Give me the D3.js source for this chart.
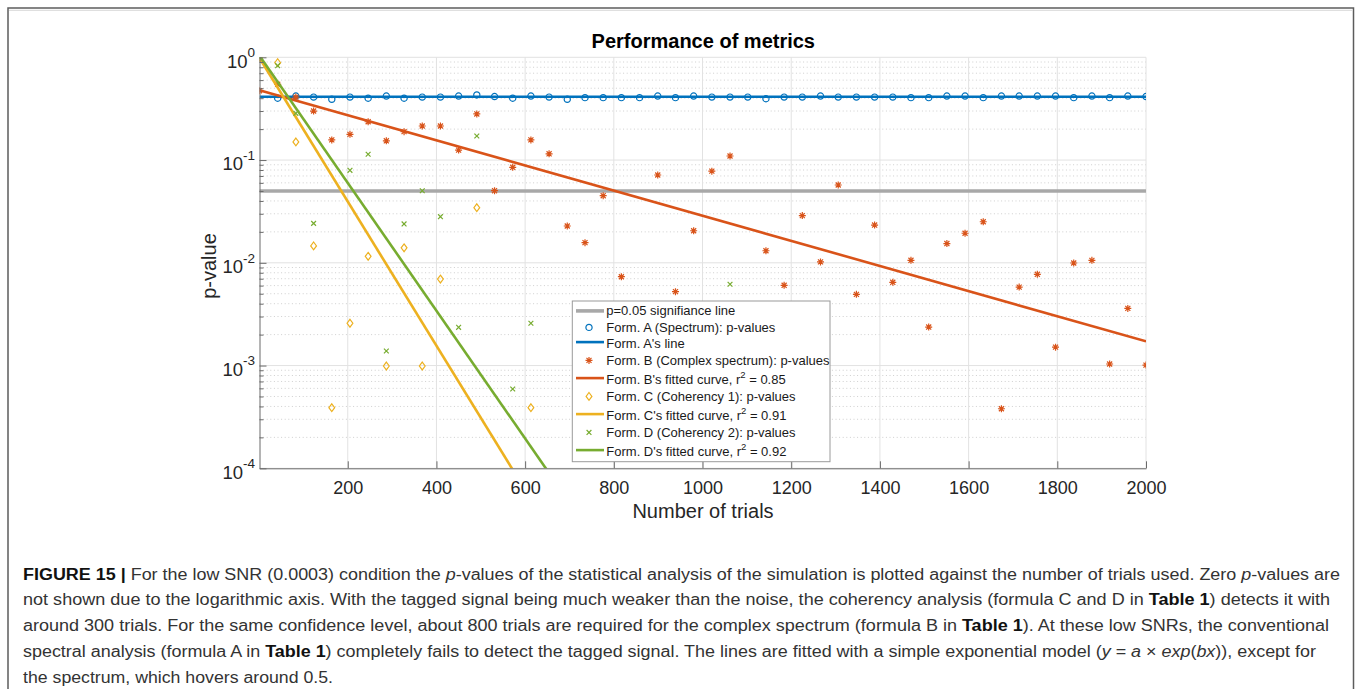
<!DOCTYPE html>
<html>
<head>
<meta charset="utf-8">
<script src="https://cdn.jsdelivr.net/npm/d3@7"></script>
<style>
  body { margin: 0; background: #fff; }
  svg { display: block; }
  text { font-family: "Liberation Sans", Arial, Helvetica, sans-serif; }
</style>
</head>
<body>
<svg id="chart" width="1358" height="689"></svg>
<script>
// ---- data -------------------------------------------------------------
const trials = [1, 42, 83, 123, 164, 205, 246, 287, 327, 368,
  409, 450, 491, 531, 572, 613, 654, 695, 735, 776,
  817, 858, 899, 939, 980, 1021, 1062, 1102, 1143, 1184,
  1225, 1266, 1306, 1347, 1388, 1429, 1470, 1510, 1551, 1592,
  1633, 1674, 1714, 1755, 1796, 1837, 1878, 1918, 1959, 2000];

// Form. A (Spectrum)
const pSpectrum = [null, 0.40, 0.42, 0.41, 0.39, 0.41, 0.40, 0.42, 0.40, 0.41,
  0.41, 0.42, 0.43, 0.415, 0.40, 0.42, 0.41, 0.39, 0.405, 0.405,
  0.405, 0.405, 0.42, 0.405, 0.42, 0.41, 0.41, 0.41, 0.395, 0.41,
  0.41, 0.42, 0.41, 0.41, 0.41, 0.41, 0.405, 0.405, 0.42, 0.42,
  0.405, 0.42, 0.42, 0.42, 0.42, 0.405, 0.42, 0.405, 0.42, 0.415];
const spectrumLevel = 0.413;

// Form. B (Complex spectrum)
const pComplex = [0.473, 0.546, 0.41, 0.300, 0.157, 0.178, 0.236, 0.154, 0.189, 0.2145,
  0.2145, 0.125, 0.281, 0.0503, 0.085, 0.157, 0.115, 0.0228, 0.0157, 0.045,
  0.00732, null, 0.0715, 0.00524, 0.0205, 0.078, 0.1095, null, 0.0131, 0.00604,
  0.0288, 0.0102, 0.0572, 0.00493, 0.0233, 0.00646, 0.01058, 0.00237, 0.0154, 0.0194,
  0.0251, 0.00038, 0.0058, 0.00773, 0.00151, 0.00996, 0.01057, 0.001035, 0.0036, 0.00101];

// Form. C (Coherency 1)
const pCoh1 = [1.0, 0.887, 0.150, 0.0146, 0.000389, 0.00258, 0.01156, 0.00099, 0.014, 0.00099,
  0.00695, null, 0.0344, null, null, 0.000389, null, null, null, null,
  null, null, null, null, null, null, null, null, null, null,
  null, null, null, null, null, null, null, null, null, null,
  null, null, null, null, null, null, null, null, null, null];

// Form. D (Coherency 2)
const pCoh2 = [1.0, 0.829, 0.285, 0.0242, null, 0.0794, 0.1138, 0.001386, 0.0239, 0.0503,
  0.0281, 0.002356, 0.1714, null, 0.000591, 0.00258, null, null, null, null,
  null, null, null, null, null, null, 0.00618, null, null, null,
  null, null, null, null, null, null, null, null, null, null,
  null, null, null, null, null, null, null, null, null, null];

const significance = 0.05;

// exponential fits y = a * exp(b * x)
const fitComplex = { a: 0.48, b: -0.002816 };
const fitCoh1 = { a: 1.0, b: -0.01616 };
const fitCoh2 = { a: 1.05, b: -0.01432 };

const xTicks = [200, 400, 600, 800, 1000, 1200, 1400, 1600, 1800, 2000];
const yTicks = [1, 0.1, 0.01, 0.001, 0.0001];
const yTickExponents = ["0", "-1", "-2", "-3", "-4"];

const legendLabels = [
  "p=0.05 signifiance line",
  "Form. A (Spectrum): p-values",
  "Form. A's line",
  "Form. B (Complex spectrum): p-values",
  ["Form. B's fitted curve, r", "2", " = 0.85"],
  "Form. C (Coherency 1): p-values",
  ["Form. C's fitted curve, r", "2", " = 0.91"],
  "Form. D (Coherency 2): p-values",
  ["Form. D's fitted curve, r", "2", " = 0.92"]
];

const captionLines = [
  [["FIGURE 15 | ", "b"], ["For the low SNR (0.0003) condition the ", ""], ["p", "i"],
   ["-values of the statistical analysis of the simulation is plotted against the number of trials used. Zero ", ""],
   ["p", "i"], ["-values are", ""]],
  [["not shown due to the logarithmic axis. With the tagged signal being much weaker than the noise, the coherency analysis (formula C and D in ", ""],
   ["Table 1", "b"], [") detects it with", ""]],
  [["around 300 trials. For the same confidence level, about 800 trials are required for the complex spectrum (formula B in ", ""],
   ["Table 1", "b"], ["). At these low SNRs, the conventional", ""]],
  [["spectral analysis (formula A in ", ""], ["Table 1", "b"],
   [") completely fails to detect the tagged signal. The lines are fitted with a simple exponential model (", ""],
   ["y", "i"], [" = ", ""], ["a", "i"], [" \u00d7 ", ""], ["exp", "i"], ["(", ""], ["bx", "i"], [")), except for", ""]],
  [["the spectrum, which hovers around 0.5.", ""]]
];

// ---- colours ---------------------------------------------------------------
const C_A = "#0072BD", C_B = "#D95319", C_C = "#EDB120", C_D = "#77AC30", C_SIG = "#a8a8a8";

// ---- layout ----------------------------------------------------------------
const svg = d3.select("#chart");
const plot = { left: 259.5, right: 1146, top: 57.3, bottom: 468.3 };

const x = d3.scaleLinear().domain([1, 2000]).range([plot.left, plot.right]);
const y = d3.scaleLog().domain([1e-4, 1]).range([plot.bottom, plot.top]);

// outer figure frame
svg.append("rect").attr("x", 8).attr("y", 8).attr("width", 1345.5).attr("height", 720)
  .attr("fill", "none").attr("stroke", "#5c5c5c").attr("stroke-width", 1.5);
svg.append("line").attr("x1", 9).attr("x2", 1352.5).attr("y1", 10.3).attr("y2", 10.3)
  .attr("stroke", "#d8d8d8").attr("stroke-width", 1);

svg.append("defs").append("clipPath").attr("id", "plotClip")
  .append("rect").attr("x", plot.left).attr("y", plot.top)
  .attr("width", plot.right - plot.left).attr("height", plot.bottom - plot.top);

// ---- grid ------------------------------------------------------------------
const grid = svg.append("g");
const minorY = y.ticks().filter(v => !yTicks.some(t => Math.abs(t - v) < v * 1e-6));

grid.selectAll("line.minor").data(minorY).join("line")
  .attr("x1", plot.left).attr("x2", plot.right)
  .attr("y1", d => y(d)).attr("y2", d => y(d))
  .attr("stroke", "#cfcfcf").attr("stroke-width", 1).attr("stroke-dasharray", "1,2.6");
grid.selectAll("line.majy").data(yTicks).join("line")
  .attr("x1", plot.left).attr("x2", plot.right)
  .attr("y1", d => y(d)).attr("y2", d => y(d))
  .attr("stroke", "#e2e2e2").attr("stroke-width", 1);
grid.selectAll("line.majx").data(xTicks).join("line")
  .attr("x1", d => x(d)).attr("x2", d => x(d))
  .attr("y1", plot.top).attr("y2", plot.bottom)
  .attr("stroke", "#e2e2e2").attr("stroke-width", 1);

// ---- marker shapes -----------------------------------------------------------
const markerPath = {
  circle: r => `M${-r},0a${r},${r} 0 1,0 ${2 * r},0a${r},${r} 0 1,0 ${-2 * r},0`,
  star: s => { const d = s * 0.72; return `M0,${-s}V${s}M${-s},0H${s}M${-d},${-d}L${d},${d}M${-d},${d}L${d},${-d}`; },
  diamond: () => "M0,-3.9L2.9,0L0,3.9L-2.9,0Z",
  cross: () => "M-2.4,-2.4L2.4,2.4M-2.4,2.4L2.4,-2.4"
};
const markerDef = {
  circle: { d: markerPath.circle(3.1), color: C_A },
  star: { d: markerPath.star(3.5), color: C_B },
  diamond: { d: markerPath.diamond(), color: C_C },
  cross: { d: markerPath.cross(), color: C_D }
};

const layer = svg.append("g").attr("clip-path", "url(#plotClip)");
const lineGen = d3.line().x(d => x(d[0])).y(d => y(d[1]));

function drawPoints(values, kind) {
  const pts = trials.map((t, i) => [t, values[i]]).filter(d => d[1] != null);
  layer.append("g").selectAll("path").data(pts).join("path")
    .attr("transform", d => `translate(${x(d[0])},${y(d[1])})`)
    .attr("d", markerDef[kind].d)
    .attr("fill", "none").attr("stroke", markerDef[kind].color).attr("stroke-width", 1.2);
}
function drawLine(pts, color, width) {
  layer.append("path").datum(pts).attr("d", lineGen)
    .attr("fill", "none").attr("stroke", color).attr("stroke-width", width);
}
const [x0, x1] = x.domain();
const fitPts = f => [[x0, f.a * Math.exp(f.b * x0)], [x1, f.a * Math.exp(f.b * x1)]];

drawLine([[x0, significance], [x1, significance]], C_SIG, 3.6);
drawPoints(pSpectrum, "circle");
drawLine([[x0, spectrumLevel], [x1, spectrumLevel]], C_A, 2.6);
drawPoints(pComplex, "star");
drawLine(fitPts(fitComplex), C_B, 2.6);
drawPoints(pCoh1, "diamond");
drawLine(fitPts(fitCoh1), C_C, 2.6);
drawPoints(pCoh2, "cross");
drawLine(fitPts(fitCoh2), C_D, 2.6);

// ---- axes ----------------------------------------------------------------------
const axisColor = "#6a6a6a", textColor = "#262626";

const xAxis = svg.append("g").attr("transform", `translate(0,${plot.bottom})`)
  .call(d3.axisBottom(x).tickValues(xTicks).tickFormat(d3.format("d"))
    .tickSizeInner(-7).tickSizeOuter(0).tickPadding(12.5));
xAxis.select(".domain").attr("stroke", axisColor);
xAxis.selectAll(".tick line").attr("stroke", axisColor);
xAxis.selectAll(".tick text").attr("font-size", 18).attr("fill", textColor)
  .attr("font-family", "'Liberation Sans', Arial, sans-serif");

const yAxis = svg.append("g").attr("transform", `translate(${plot.left},0)`)
  .call(d3.axisLeft(y).tickValues(yTicks).tickSizeInner(-7).tickSizeOuter(0).tickFormat(""));
yAxis.select(".domain").attr("stroke", axisColor);
yAxis.selectAll(".tick line").attr("stroke", axisColor);

const yMinor = svg.append("g").attr("transform", `translate(${plot.left},0)`)
  .call(d3.axisLeft(y).tickValues(minorY).tickSizeInner(-4).tickSizeOuter(0).tickFormat(""));
yMinor.select(".domain").remove();
yMinor.selectAll(".tick line").attr("stroke", axisColor);

// power-of-ten labels
const yl = svg.append("g");
yTicks.forEach((v, i) => {
  const t = yl.append("text").attr("x", 255).attr("y", y(v) + 10.4)
    .attr("text-anchor", "end").attr("fill", textColor).attr("font-size", 18.5);
  t.append("tspan").text("10");
  t.append("tspan").attr("dy", -10.5).attr("font-size", 13.5).text(yTickExponents[i]);
});

// titles
svg.append("text").attr("x", 703.3).attr("y", 47.7).attr("text-anchor", "middle")
  .attr("font-size", 20).attr("font-weight", "bold").attr("fill", "#000")
  .text("Performance of metrics");
svg.append("text").attr("x", 703).attr("y", 518).attr("text-anchor", "middle")
  .attr("font-size", 20).attr("fill", textColor).text("Number of trials");
svg.append("text").attr("transform", "translate(216,266) rotate(-90)").attr("text-anchor", "middle")
  .attr("font-size", 20).attr("fill", textColor).text("p-value");

// ---- legend ------------------------------------------------------------------------
const leg = svg.append("g");
leg.append("rect").attr("x", 572.3).attr("y", 301).attr("width", 257.7).attr("height", 160.7)
  .attr("fill", "#fff").attr("stroke", "#9a9a9a").attr("stroke-width", 1);

const legendItems = [
  { type: "line", color: C_SIG, w: 3.6 },
  { type: "marker", kind: "circle" },
  { type: "line", color: C_A, w: 2.6 },
  { type: "marker", kind: "star" },
  { type: "line", color: C_B, w: 2.6 },
  { type: "marker", kind: "diamond" },
  { type: "line", color: C_C, w: 2.6 },
  { type: "marker", kind: "cross" },
  { type: "line", color: C_D, w: 2.6 }
];
let base = 315.3;
legendItems.forEach((item, i) => {
  const label = legendLabels[i];
  const hasSup = Array.isArray(label);
  if (i > 0) base += hasSup ? 19.5 : 16.5;
  const cy = base - (hasSup || i === 2 ? 6.2 : 4.4);
  if (item.type === "line") {
    leg.append("line").attr("x1", 576).attr("x2", 604).attr("y1", cy).attr("y2", cy)
      .attr("stroke", item.color).attr("stroke-width", item.w);
  } else {
    leg.append("path").attr("transform", `translate(589,${cy})`)
      .attr("d", markerDef[item.kind].d).attr("fill", "none")
      .attr("stroke", markerDef[item.kind].color).attr("stroke-width", 1.2);
  }
  const t = leg.append("text").attr("x", 606.3).attr("y", base)
    .attr("font-size", 13).attr("fill", "#1a1a1a");
  if (hasSup) {
    t.append("tspan").text(label[0]);
    t.append("tspan").attr("dy", -6).attr("font-size", 9.5).text(label[1]);
    t.append("tspan").attr("dy", 6).text(label[2]);
  } else {
    t.text(label);
  }
});

// ---- caption -----------------------------------------------------------------------
const capBaselines = [579.5, 605.3, 631, 656.8, 682.5];
const capEnds = [1340, 1330, 1329, 1316, 333];
captionLines.forEach((segs, i) => {
  const t = svg.append("text").attr("x", 23).attr("y", capBaselines[i])
    .attr("font-size", 16).attr("fill", "#333");
  segs.forEach(([str, style]) => {
    const s = t.append("tspan").text(str);
    if (style === "b") s.attr("font-weight", "bold").attr("fill", "#111");
    if (style === "i") s.attr("font-style", "italic");
  });
  t.attr("textLength", capEnds[i] - 23).attr("lengthAdjust", "spacingAndGlyphs");
});
</script>
</body>
</html>
